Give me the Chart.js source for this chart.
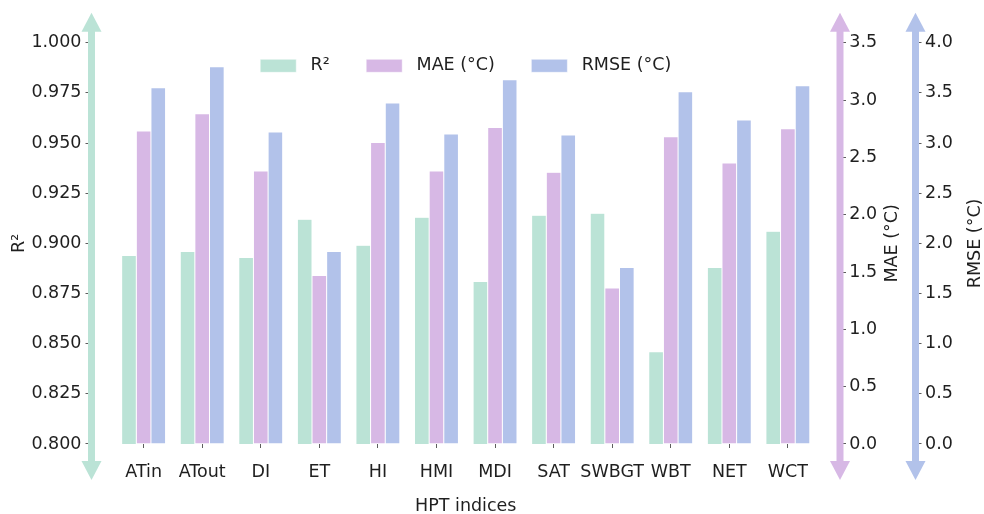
<!DOCTYPE html>
<html>
<head>
<meta charset="utf-8">
<script src="https://cdn.jsdelivr.net/npm/chart.js@4.4.1/dist/chart.umd.min.js"></script>
<style>
  html, body { margin: 0; padding: 0; background: #ffffff; }
  #wrap { width: 984px; height: 514px; }
</style>
</head>
<body>
<div id="wrap"><canvas id="chart" width="984" height="514"></canvas></div>
<script>
// Heat-perception index performance metrics
const indices = ['ATin', 'ATout', 'DI', 'ET', 'HI', 'HMI', 'MDI', 'SAT', 'SWBGT', 'WBT', 'NET', 'WCT'];
const r2Values   = [0.894, 0.896, 0.893, 0.912, 0.899, 0.913, 0.881, 0.914, 0.915, 0.846, 0.888, 0.906];
const maeValues  = [2.73, 2.88, 2.38, 1.47, 2.63, 2.38, 2.76, 2.37, 1.36, 2.68, 2.45, 2.75];
const rmseValues = [3.55, 3.76, 3.11, 1.92, 3.40, 3.09, 3.63, 3.08, 1.76, 3.51, 3.23, 3.57];

const r2Ticks   = [0.800, 0.825, 0.850, 0.875, 0.900, 0.925, 0.950, 0.975, 1.000];
const maeTicks  = [0.0, 0.5, 1.0, 1.5, 2.0, 2.5, 3.0, 3.5];
const rmseTicks = [0.0, 0.5, 1.0, 1.5, 2.0, 2.5, 3.0, 3.5, 4.0];

const COLORS = { r2: '#bbe3d6', mae: '#d7b8e5', rmse: '#b2c2ea' };
const TEXT = '#1f1f1f';
const FONT = { family: "'DejaVu Sans', sans-serif", size: 17.5 };

const toPoints = vals => vals.map((v, i) => ({ x: i, y: v }));

// Double-headed arrows drawn over each y-axis spine, plus upright right-axis titles
const axisDecor = {
  id: 'axisDecor',
  afterDraw(chart) {
    const { ctx, chartArea, scales } = chart;
    const yTop = chartArea.top - 30;
    const yBot = chartArea.bottom + 36;
    const arrows = [
      { x: scales.yR2.right, color: COLORS.r2 },
      { x: scales.yMAE.left, color: COLORS.mae },
      { x: scales.yRMSE.left, color: COLORS.rmse }
    ];
    const shaft = 7, headW = 20, headL = 19;
    ctx.save();
    arrows.forEach(a => {
      ctx.fillStyle = a.color;
      ctx.fillRect(a.x - shaft / 2, yTop + headL - 1, shaft, (yBot - yTop) - 2 * headL + 2);
      ctx.beginPath();
      ctx.moveTo(a.x, yTop);
      ctx.lineTo(a.x + headW / 2, yTop + headL);
      ctx.lineTo(a.x - headW / 2, yTop + headL);
      ctx.closePath();
      ctx.fill();
      ctx.beginPath();
      ctx.moveTo(a.x, yBot);
      ctx.lineTo(a.x + headW / 2, yBot - headL);
      ctx.lineTo(a.x - headW / 2, yBot - headL);
      ctx.closePath();
      ctx.fill();
    });
    // right-hand axis titles, reading bottom to top
    ctx.fillStyle = TEXT;
    ctx.font = `${FONT.size}px ${FONT.family}`;
    ctx.textAlign = 'center';
    ctx.textBaseline = 'middle';
    const midY = (chartArea.top + chartArea.bottom) / 2;
    [['yMAE', 52.5], ['yRMSE', 59.5]].forEach(([id, dx]) => {
      const s = scales[id];
      ctx.save();
      ctx.translate(s.left + dx, midY);
      ctx.rotate(-Math.PI / 2);
      ctx.fillText(s.options.title.text, 0, 0);
      ctx.restore();
    });
    ctx.restore();
  }
};

// Place the legend row inside the top of the plotting area
const legendNudge = {
  id: 'legendNudge',
  afterLayout(chart) {
    const lg = chart.legend;
    if (lg) {
      const pad = lg.options.labels.padding;
      lg.top = chart.chartArea.top + 23.1 - pad - FONT.size / 2;
      lg.height = pad + 40;
      lg.bottom = lg.top + lg.height;
    }
  }
};

const yTickCommon = {
  color: TEXT,
  font: FONT
};

new Chart(document.getElementById('chart'), {
  type: 'bar',
  data: {
    datasets: [
      { label: 'R²', data: toPoints(r2Values), yAxisID: 'yR2',
        backgroundColor: COLORS.r2, borderColor: '#ffffff', borderWidth: 0.5 },
      { label: 'MAE (°C)', data: toPoints(maeValues), yAxisID: 'yMAE',
        backgroundColor: COLORS.mae, borderColor: '#ffffff', borderWidth: 0.5 },
      { label: 'RMSE (°C)', data: toPoints(rmseValues), yAxisID: 'yRMSE',
        backgroundColor: COLORS.rmse, borderColor: '#ffffff', borderWidth: 0.5 }
    ]
  },
  options: {
    responsive: false,
    animation: false,
    devicePixelRatio: 1,
    categoryPercentage: 0.75,
    barPercentage: 1.0,
    layout: { padding: { top: 42.7, left: 0, right: 0, bottom: 0 } },
    plugins: {
      tooltip: { enabled: false },
      legend: {
        position: 'top',
        align: 'center',
        fullSize: false,
        maxHeight: 0.01,
        labels: {
          boxWidth: 36,
          boxHeight: 13,
          padding: 36.5,
          color: TEXT,
          font: FONT,
          generateLabels(chart) {
            const items = Chart.defaults.plugins.legend.labels.generateLabels(chart);
            items.forEach(it => { it.text = ' ' + it.text; });
            return items;
          }
        }
      }
    },
    scales: {
      x: {
        type: 'linear',
        min: -0.89,
        max: 11.89,
        offset: false,
        afterBuildTicks(axis) { axis.ticks = indices.map((_, i) => ({ value: i })); },
        afterFit(axis) { axis.height = 70; },
        ticks: {
          autoSkip: false,
          maxRotation: 0,
          padding: 13.5,
          color: TEXT,
          font: FONT,
          callback: v => indices[Math.round(v)]
        },
        grid: { offset: false, drawOnChartArea: false, drawTicks: true, tickLength: 4, tickColor: '#333333', tickWidth: 0.8 },
        border: { display: false },
        title: { display: true, text: 'HPT indices', color: TEXT, font: FONT, padding: { top: 0, bottom: -3 } }
      },
      yR2: {
        type: 'linear',
        position: 'left',
        min: 0.8,
        max: 1.0,
        afterBuildTicks(axis) { axis.ticks = r2Ticks.map(v => ({ value: v })); },
        afterFit(axis) { axis.width = 91.5; },
        ticks: { ...yTickCommon, padding: 4, callback: v => Number(v).toFixed(3) },
        grid: { drawOnChartArea: false, tickLength: 6, tickColor: '#333333', tickWidth: 0.8 },
        border: { display: false },
        title: { display: true, text: 'R²', color: TEXT, font: FONT, padding: { top: 8.5, bottom: 0 } }
      },
      yMAE: {
        type: 'linear',
        position: 'right',
        weight: 0,
        min: 0,
        max: 3.5,
        afterBuildTicks(axis) { axis.ticks = maeTicks.map(v => ({ value: v })); },
        afterFit(axis) { axis.width = 75.5; },
        ticks: { ...yTickCommon, padding: 3.3, callback: v => Number(v).toFixed(1) },
        grid: { drawOnChartArea: false, tickLength: 6, tickColor: '#333333', tickWidth: 0.8 },
        border: { display: false },
        title: { display: false, text: 'MAE (°C)' }
      },
      yRMSE: {
        type: 'linear',
        position: 'right',
        weight: 1,
        min: 0,
        max: 4.0,
        afterBuildTicks(axis) { axis.ticks = rmseTicks.map(v => ({ value: v })); },
        afterFit(axis) { axis.width = 68.5; },
        ticks: { ...yTickCommon, padding: 3.6, callback: v => Number(v).toFixed(1) },
        grid: { drawOnChartArea: false, tickLength: 6, tickColor: '#333333', tickWidth: 0.8 },
        border: { display: false },
        title: { display: false, text: 'RMSE (°C)' }
      }
    }
  },
  plugins: [axisDecor, legendNudge]
});
</script>
</body>
</html>
